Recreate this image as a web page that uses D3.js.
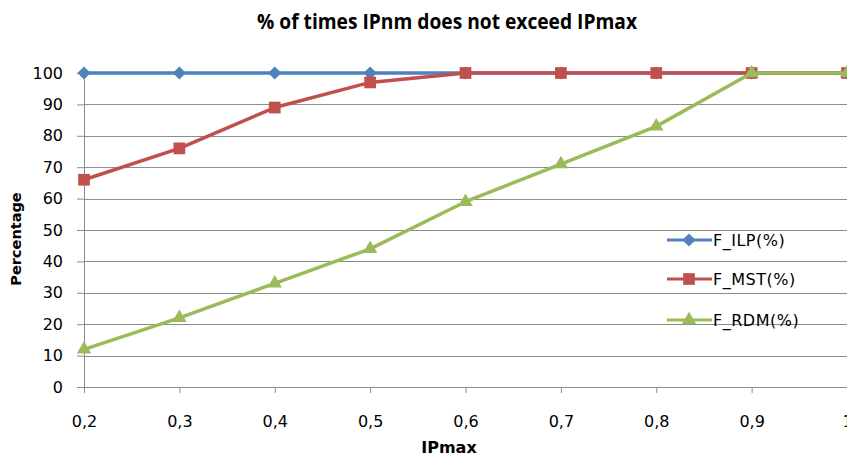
<!DOCTYPE html>
<html>
<head>
<meta charset="utf-8">
<script src="https://cdn.jsdelivr.net/npm/d3@7"></script>
<style>
  html, body { margin: 0; padding: 0; background: #fff; }
  svg { display: block; }
  text { font-family: "DejaVu Sans", "Open Sans", sans-serif; fill: #000; }
</style>
</head>
<body>
<svg id="chart" width="847" height="457"></svg>
<script>
// Category values along the x axis (IPmax thresholds)
const categories = [0.2, 0.3, 0.4, 0.5, 0.6, 0.7, 0.8, 0.9, 1];
const categoryLabels = ["0,2", "0,3", "0,4", "0,5", "0,6", "0,7", "0,8", "0,9", "1"];
const yTicks = [0, 10, 20, 30, 40, 50, 60, 70, 80, 90, 100];

// Series: percentage of runs where IPnm stays within IPmax
const ilp = [100, 100, 100, 100, 100, 100, 100, 100, 100];
const mst = [66, 76, 89, 97, 100, 100, 100, 100, 100];
const rdm = [12, 22, 33, 44, 59, 71, 83, 100, 100];

const seriesNames = ["F_ILP(%)", "F_MST(%)", "F_RDM(%)"];
const seriesColors = ["#4F81BD", "#C0504D", "#9BBB59"];
const seriesValues = [ilp, mst, rdm];
const seriesMarkers = ["diamond", "square", "triangle"];

const svg = d3.select("#chart");
const W = 847;
const plotLeft = 84;

const x = d3.scalePoint()
  .domain(categoryLabels)
  .range([plotLeft, 847]);
const y = d3.scaleLinear().domain([0, 100]).range([387, 73]);

// Horizontal gridlines
svg.append("g")
  .selectAll("line")
  .data(yTicks.filter(d => d > 0))
  .join("line")
  .attr("x1", plotLeft).attr("x2", W)
  .attr("y1", d => Math.round(y(d)) + 0.5).attr("y2", d => Math.round(y(d)) + 0.5)
  .attr("stroke", "#8c8c8c").attr("stroke-width", 1);

// Y axis
const yAxis = svg.append("g")
  .attr("transform", `translate(${plotLeft},0)`)
  .call(d3.axisLeft(y).tickValues(yTicks).tickSize(7).tickPadding(14));
yAxis.select(".domain").attr("stroke", "#8c8c8c");
yAxis.selectAll(".tick line").attr("stroke", "#8c8c8c");
yAxis.selectAll(".tick text")
  .style("font-size", "16px").style("font-family", "DejaVu Sans").attr("fill", "#000");

// X axis
const xAxis = svg.append("g")
  .attr("transform", `translate(0,${y(0)})`)
  .call(d3.axisBottom(x).tickSize(6).tickPadding(23));
xAxis.select(".domain").attr("stroke", "#8c8c8c").attr("d", `M${plotLeft},0.5H${W}`);
xAxis.selectAll(".tick line").attr("stroke", "#8c8c8c");
xAxis.selectAll(".tick text")
  .style("font-size", "16px").style("font-family", "DejaVu Sans").attr("fill", "#000");

// Marker symbols
const symbolFor = {
  diamond: d3.symbol().type(d3.symbolDiamond2).size(110),
  square: d3.symbol().type(d3.symbolSquare2).size(175),
  triangle: d3.symbol().type(d3.symbolTriangle2).size(150)
};

const line = d3.line()
  .x((d, i) => x(categoryLabels[i]))
  .y(d => y(d));

seriesValues.forEach((vals, s) => {
  const g = svg.append("g");
  g.append("path")
    .datum(vals)
    .attr("d", line)
    .attr("fill", "none")
    .attr("stroke", seriesColors[s])
    .attr("stroke-width", 3.5)
    .attr("stroke-linejoin", "round");
  g.selectAll("path.m")
    .data(vals)
    .join("path")
    .attr("class", "m")
    .attr("transform", (d, i) => `translate(${x(categoryLabels[i])},${y(d)})`)
    .attr("d", symbolFor[seriesMarkers[s]])
    .attr("fill", seriesColors[s]);
});

// Legend
const legendY = [240, 279, 320];
seriesNames.forEach((name, s) => {
  const g = svg.append("g").attr("transform", `translate(667,${legendY[s]})`);
  g.append("line").attr("x1", 0).attr("x2", 45).attr("y1", 0).attr("y2", 0)
    .attr("stroke", seriesColors[s]).attr("stroke-width", 3);
  g.append("path").attr("transform", "translate(22,0)")
    .attr("d", symbolFor[seriesMarkers[s]]).attr("fill", seriesColors[s]);
  g.append("text").attr("x", 46).attr("y", 6)
    .style("font-size", "16px").style("letter-spacing", "0.5px").text(name);
});

// Titles
svg.append("text")
  .attr("x", 257).attr("y", 29)
  .attr("textLength", 380).attr("lengthAdjust", "spacingAndGlyphs")
  .style("font-family", "'Open Sans', sans-serif")
  .style("font-size", "21px").style("font-weight", "bold")
  .text("% of times IPnm does not exceed IPmax");

svg.append("text")
  .attr("x", 449).attr("y", 453)
  .attr("text-anchor", "middle")
  .style("font-size", "16px").style("font-weight", "bold")
  .text("IPmax");

svg.append("text")
  .attr("transform", "translate(21,239) rotate(-90)")
  .attr("text-anchor", "middle")
  .style("font-size", "14.5px").style("font-weight", "bold")
  .text("Percentage");
</script>
</body>
</html>
